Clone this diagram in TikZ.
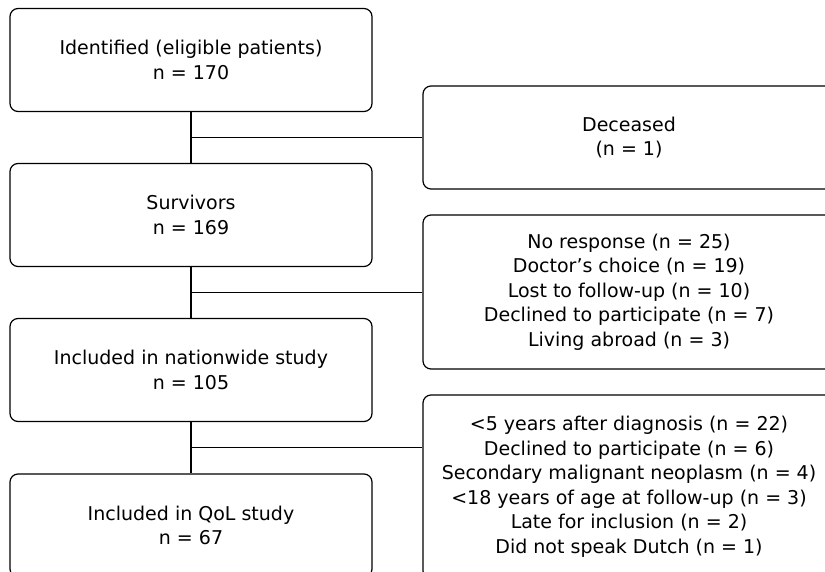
\documentclass[tikz,border=0pt]{standalone}
\usepackage{fontspec}
\setmainfont{DejaVu Sans}
\usetikzlibrary{positioning,calc}

\begin{document}
\begin{tikzpicture}[x=1pt,y=-1pt,
    box/.style={draw,line width=1.2pt,rounded corners=8pt,align=center,inner sep=0pt,
      font=\fontsize{19}{24.5}\selectfont},
    leftbox/.style={box,minimum width=362pt,minimum height=103pt},
    rightbox/.style={box,minimum width=412pt},
    link/.style={line width=1.2pt}]
    \useasboundingbox (0,0) rectangle (825,572);
    \clip (0,0) rectangle (825,572);
    % main flow
    \node[leftbox] (ident) at (191,60) {Identified (eligible patients)\\n = 170};
    \node[leftbox] (surv) at (191,215) {Survivors\\n = 169};
    \node[leftbox] (nation) at (191,370) {Included in nationwide study\\n = 105};
    \node[leftbox] (qol) at (191,525.5) {Included in QoL study\\n = 67};
    % exclusions
    \node[rightbox,minimum height=103pt] (dec) at (629,137.5) {Deceased\\(n = 1)};
    \node[rightbox,minimum height=154pt] (nonpart) at (629,292) {No response (n = 25)\\Doctor’s choice (n = 19)\\Lost to follow-up (n = 10)\\Declined to participate (n = 7)\\Living abroad (n = 3)};
    \node[rightbox,minimum height=184pt] (excl) at (629,487) {<5 years after diagnosis (n = 22)\\Declined to participate (n = 6)\\Secondary malignant neoplasm (n = 4)\\<18 years of age at follow-up (n = 3)\\Late for inclusion (n = 2)\\Did not speak Dutch (n = 1)};
    % connectors
    \draw[link] (ident) -- (surv);
    \draw[link] (surv) -- (nation);
    \draw[link] (nation) -- (qol);
    \coordinate (b1) at ($(ident.south)!0.5!(surv.north)$);
    \coordinate (b2) at ($(surv.south)!0.5!(nation.north)$);
    \coordinate (b3) at ($(nation.south)!0.5!(qol.north)$);
    \draw[link] (b1) -- (b1 -| dec.west);
    \draw[link] (b2) -- (b2 -| nonpart.west);
    \draw[link] (b3) -- (b3 -| excl.west);
\end{tikzpicture}
\end{document}
